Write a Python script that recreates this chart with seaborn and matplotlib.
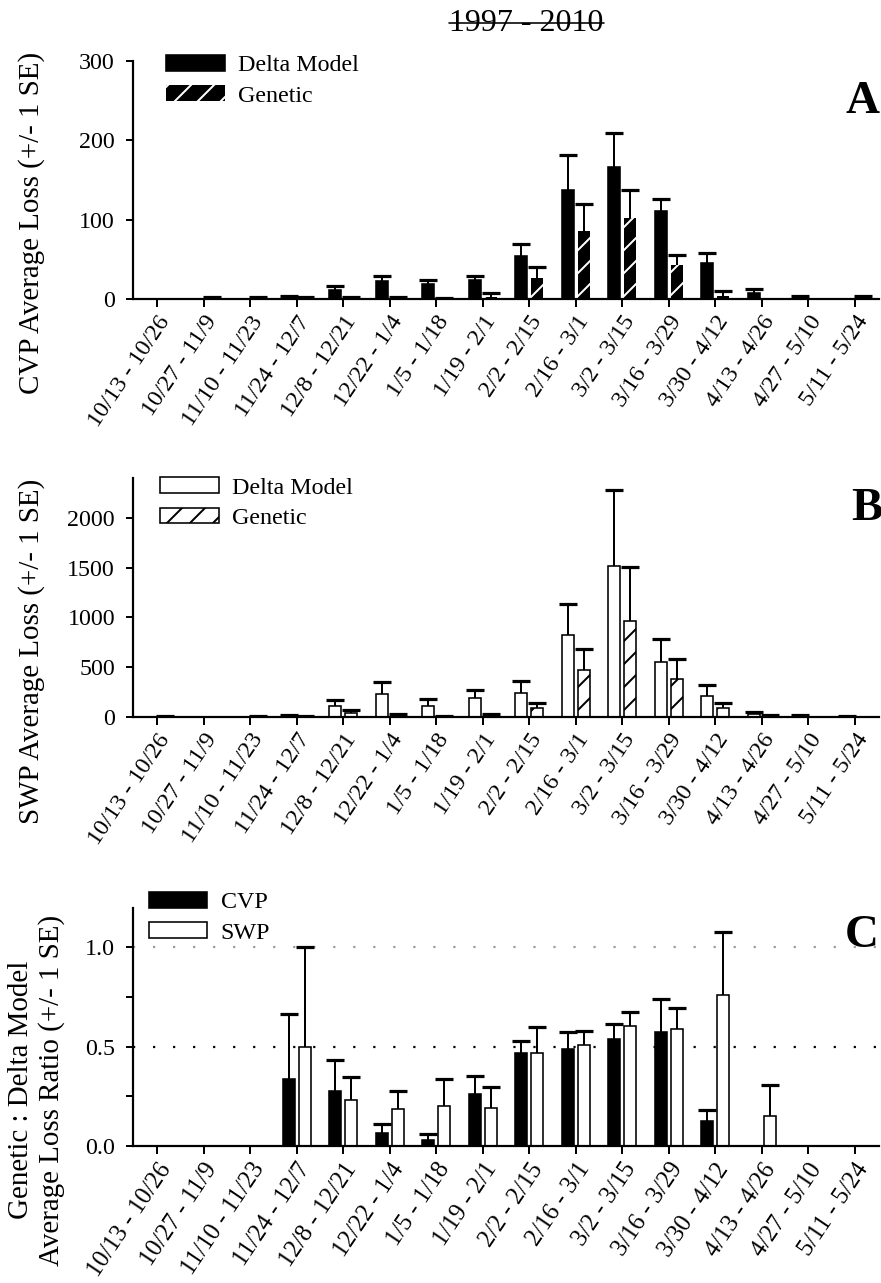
import numpy as np
import pandas as pd
import matplotlib
matplotlib.use("Agg")
import matplotlib.pyplot as plt
import seaborn as sns
from matplotlib.patches import Patch
from matplotlib.lines import Line2D

# ---------------------------------------------------------------- data
periods = ["10/13 - 10/26", "10/27 - 11/9", "11/10 - 11/23", "11/24 - 12/7",
           "12/8 - 12/21", "12/22 - 1/4", "1/5 - 1/18", "1/19 - 2/1",
           "2/2 - 2/15", "2/16 - 3/1", "3/2 - 3/15", "3/16 - 3/29",
           "3/30 - 4/12", "4/13 - 4/26", "4/27 - 5/10", "5/11 - 5/24"]

cvp_delta = [0, 0, 0, 3, 11, 23, 19, 24, 54, 138, 166, 111, 45, 8, 3, 0]
cvp_delta_se = [0, 0, 0, 1, 5, 6, 5, 5, 15, 43, 43, 15, 13, 4, 1, 0]
cvp_genetic = [0, 1, 1, 2, 2, 2, 0.5, 3, 26, 86, 102, 43, 4, 0, 0, 3]
cvp_genetic_se = [0, 1, 1, 1, 1, 1, 0.5, 4, 14, 34, 36, 12, 6, 0, 0, 1]

swp_delta = [0, 0, 0, 10, 108, 226, 108, 189, 242, 822, 1515, 556, 212, 30, 8, 5]
swp_delta_se = [0, 0, 0, 7, 57, 124, 70, 77, 118, 316, 765, 229, 104, 14, 5, 3]
swp_genetic = [3, 0, 5, 3, 34, 20, 5, 20, 84, 468, 960, 377, 84, 10, 0, 0]
swp_genetic_se = [5, 0, 3, 3, 30, 7, 3, 7, 54, 216, 548, 205, 51, 5, 0, 0]

ratio_cvp = [0, 0, 0, 0.336, 0.275, 0.067, 0.032, 0.263, 0.466, 0.490,
             0.537, 0.572, 0.126, 0, 0, 0]
ratio_cvp_se = [0, 0, 0, 0.330, 0.156, 0.045, 0.028, 0.091, 0.064, 0.082,
                0.077, 0.166, 0.054, 0, 0, 0]
ratio_swp = [0, 0, 0, 0.500, 0.233, 0.188, 0.203, 0.193, 0.470, 0.507,
             0.606, 0.589, 0.761, 0.153, 0, 0]
ratio_swp_se = [0, 0, 0, 0.500, 0.116, 0.087, 0.136, 0.106, 0.127, 0.073,
                0.068, 0.104, 0.316, 0.152, 0, 0]

# ---------------------------------------------------------------- layout
DPI = 138
W, H = 881, 1283


def px(v):
    """Pixel length -> points at the figure dpi."""
    return v * 72.0 / DPI


sns.set_theme(style="ticks", rc={
    "axes.edgecolor": "black", "xtick.color": "black", "ytick.color": "black",
    "text.color": "black", "axes.labelcolor": "black",
})
plt.rcParams["font.family"] = ["Liberation Serif", "DejaVu Serif"]
plt.rcParams["hatch.linewidth"] = px(2.0)

HATCH = "//"

fig = plt.figure(figsize=(W / DPI, H / DPI), dpi=DPI)
fig.patch.set_facecolor("white")


def add_axes(top, bottom):
    return fig.add_axes([133 / W, 1 - bottom / H, 746 / W, (bottom - top) / H])


axA = add_axes(61, 299)
axB = add_axes(478.5, 716.7)
axC = add_axes(907.7, 1146)


def style_container(container, face, edge, hatch, lw):
    for bar in container:
        bar.set_facecolor(face)
        bar.set_edgecolor(edge)
        bar.set_linewidth(lw)
        if hatch:
            bar.set_hatch(hatch)


def bar_panel(ax, names, values, errors, styles):
    df = pd.DataFrame({
        "period": periods * 2,
        "value": list(values[0]) + list(values[1]),
        "series": [names[0]] * len(periods) + [names[1]] * len(periods),
    })
    sns.barplot(data=df, x="period", y="value", hue="series",
                order=periods, hue_order=names, palette=["black", "white"],
                saturation=1, width=0.68, gap=0.24, errorbar=None,
                legend=False, edgecolor="black", linewidth=px(1.6), ax=ax)
    containers = list(ax.containers)
    for cont, style, se in zip(containers, styles, errors):
        style_container(cont, *style)
        xs = np.array([b.get_x() + b.get_width() / 2 for b in cont])
        ys = np.array([b.get_height() for b in cont])
        se = np.asarray(se, dtype=float)
        m = se > 0
        _, caps, _ = ax.errorbar(xs[m], ys[m], yerr=[np.zeros(m.sum()), se[m]],
                                 fmt="none", ecolor="black",
                                 elinewidth=px(2.0), capsize=px(9),
                                 capthick=px(3.2), zorder=4)
        # only the upper (+1 SE) cap is shown
        for cl in caps:
            if np.allclose(cl.get_ydata(), ys[m]):
                cl.set_visible(False)


def finish_axes(ax, ylim, yticks, yticklabels, xlabelsize):
    sns.despine(ax=ax)
    for side in ("left", "bottom"):
        ax.spines[side].set_linewidth(px(2.2))
    ax.set_xlim(-0.52, 15.52)
    ax.set_ylim(*ylim)
    ax.set_yticks(yticks)
    ax.set_yticklabels(yticklabels)
    ax.set_xticks(range(len(periods)))
    ax.set_xticklabels(periods, rotation=56, ha="right", va="top",
                       rotation_mode="anchor")
    ax.set_xlabel("")
    ax.tick_params(axis="both", which="both", direction="out", width=px(2))
    ax.tick_params(axis="y", which="both", length=px(7), pad=px(11),
                   labelsize=px(24))
    ax.tick_params(axis="x", length=px(8), pad=px(5), labelsize=xlabelsize)
    ax.set_facecolor("white")


LEG = dict(loc="upper left", frameon=False, fontsize=px(24),
           handlelength=2.45, handleheight=0.62, handletextpad=0.55,
           labelspacing=0.38, borderpad=0, borderaxespad=0)

# ---------------------------------------------------------------- panel A
bar_panel(axA, ["Delta Model", "Genetic"], [cvp_delta, cvp_genetic],
          [cvp_delta_se, cvp_genetic_se],
          [("black", "black", None, px(1.6)), ("black", "white", HATCH, 0)])
finish_axes(axA, (0, 300), [0, 100, 200, 300], ["0", "100", "200", "300"], px(24))
axA.set_ylabel("CVP Average Loss (+/- 1 SE)", fontsize=px(29))
axA.yaxis.set_label_coords(-0.118, 0.32)
axA.legend([Patch(facecolor="black", edgecolor="black", linewidth=px(1.6)),
            Patch(facecolor="black", edgecolor="white", hatch=HATCH, linewidth=0)],
           ["Delta Model", "Genetic"], bbox_to_anchor=(0.044, 1.025), **LEG)

# ---------------------------------------------------------------- panel B
bar_panel(axB, ["Delta Model", "Genetic"], [swp_delta, swp_genetic],
          [swp_delta_se, swp_genetic_se],
          [("white", "black", None, px(1.6)), ("white", "black", HATCH, px(1.6))])
finish_axes(axB, (0, 2400), [0, 500, 1000, 1500, 2000],
            ["0", "500", "1000", "1500", "2000"], px(24))
axB.set_ylabel("SWP Average Loss (+/- 1 SE)", fontsize=px(29))
axB.yaxis.set_label_coords(-0.118, 0.275)
axB.legend([Patch(facecolor="white", edgecolor="black", linewidth=px(1.6)),
            Patch(facecolor="white", edgecolor="black", hatch=HATCH, linewidth=px(1.6))],
           ["Delta Model", "Genetic"], bbox_to_anchor=(0.036, 1.005), **LEG)

# ---------------------------------------------------------------- panel C
axC.axhline(1.0, color="#9c9c9c", lw=px(2.2), linestyle=(0, (1, 8.1)), zorder=0)
axC.axhline(0.5, color="black", lw=px(2.2), linestyle=(0, (1, 8.1)), zorder=0)
bar_panel(axC, ["CVP", "SWP"], [ratio_cvp, ratio_swp],
          [ratio_cvp_se, ratio_swp_se],
          [("black", "black", None, px(1.6)), ("white", "black", None, px(1.6))])
finish_axes(axC, (0, 1.2), [0.0, 0.5, 1.0], ["0.0", "0.5", "1.0"], px(24.5))
axC.set_yticks([0.25, 0.75], minor=True)
axC.set_ylabel("Genetic : Delta Model\nAverage Loss Ratio (+/- 1 SE)",
               fontsize=px(29), linespacing=1.2)
axC.yaxis.set_label_coords(-0.091, 0.235)
axC.legend([Patch(facecolor="black", edgecolor="black", linewidth=px(1.6)),
            Patch(facecolor="white", edgecolor="black", linewidth=px(1.6))],
           ["CVP", "SWP"], bbox_to_anchor=(0.021, 1.066), **LEG)

# ---------------------------------------------------------------- labels
for letter, x, y in (("A", 846, 113), ("B", 851, 520), ("C", 845, 947)):
    fig.text(x / W, 1 - y / H, letter, fontsize=px(47), fontweight="bold",
             ha="left", va="baseline")

title = fig.text(526.6 / W, 1 - 31 / H, "1997 - 2010", fontsize=px(32),
                 ha="center", va="baseline")
fig.canvas.draw()
bb = title.get_window_extent()
fig.add_artist(Line2D([bb.x0 / fig.bbox.width, bb.x1 / fig.bbox.width],
                      [1 - 23 / H, 1 - 23 / H], transform=fig.transFigure,
                      color="black", lw=px(1.6)))

fig.savefig("out.png", dpi=DPI, facecolor="white")
